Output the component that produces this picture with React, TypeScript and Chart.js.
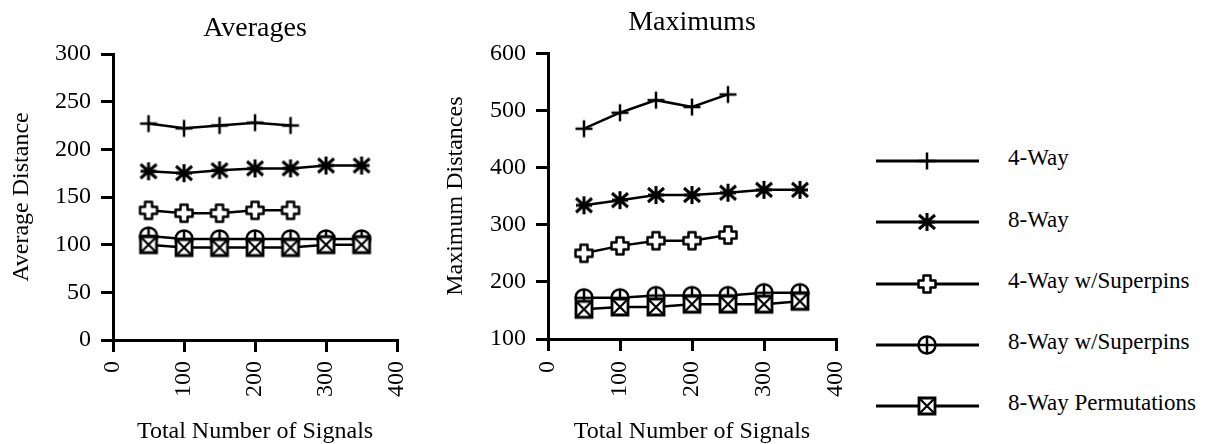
import React, { useEffect, useRef } from 'react';
import { Chart, registerables } from 'chart.js';

Chart.register(...registerables);

const FONT = "'Liberation Serif', 'Times New Roman', serif";

// ---- data ----
const signals = [50, 100, 150, 200, 250, 300, 350];
const seriesNames = ['4-Way', '8-Way', '4-Way w/Superpins', '8-Way w/Superpins', '8-Way Permutations'];

const avg4Way = [227, 222, 225, 228, 225];
const avg8Way = [177, 175, 178, 180, 180, 183, 183];
const avg4WaySP = [136, 133, 133, 136, 136];
const avg8WaySP = [109, 106, 106, 106, 106, 106, 106];
const avg8WayPerm = [100, 97, 97, 97, 97, 100, 100];

const max4Way = [468, 496, 518, 506, 528];
const max8Way = [334, 343, 352, 352, 356, 361, 361];
const max4WaySP = [250, 263, 272, 272, 282];
const max8WaySP = [172, 172, 176, 176, 176, 181, 181];
const max8WayPerm = [152, 156, 156, 161, 161, 161, 166];

const avgYTicks = { min: 0, max: 300, step: 50 };
const maxYTicks = { min: 100, max: 600, step: 100 };
const xTicks = { min: 0, max: 400, step: 100 };

type MarkerKind = 'plus' | 'asterisk' | 'greek' | 'circlePlus' | 'squareX';
const markerKinds: MarkerKind[] = ['plus', 'asterisk', 'greek', 'circlePlus', 'squareX'];

function drawMarker(ctx: CanvasRenderingContext2D, kind: MarkerKind, cx: number, cy: number) {
  ctx.save();
  ctx.strokeStyle = '#000';
  ctx.fillStyle = '#fff';
  ctx.lineJoin = 'miter';
  ctx.lineCap = 'butt';
  if (kind === 'plus') {
    ctx.lineWidth = 2.5;
    ctx.beginPath();
    ctx.moveTo(cx - 8.5, cy);
    ctx.lineTo(cx + 8.5, cy);
    ctx.moveTo(cx, cy - 8.5);
    ctx.lineTo(cx, cy + 8.5);
    ctx.stroke();
  } else if (kind === 'asterisk') {
    ctx.lineWidth = 3;
    ctx.beginPath();
    ctx.moveTo(cx, cy - 9);
    ctx.lineTo(cx, cy + 9);
    ctx.moveTo(cx - 8, cy - 7);
    ctx.lineTo(cx + 8, cy + 7);
    ctx.moveTo(cx - 8, cy + 7);
    ctx.lineTo(cx + 8, cy - 7);
    ctx.moveTo(cx - 8, cy);
    ctx.lineTo(cx + 8, cy);
    ctx.stroke();
  } else if (kind === 'greek') {
    const a = 3.5;
    const L = 8.5;
    ctx.lineWidth = 2.5;
    ctx.lineJoin = 'round';
    ctx.beginPath();
    const pts = [
      [-a, -L], [a, -L], [a, -a], [L, -a], [L, a], [a, a],
      [a, L], [-a, L], [-a, a], [-L, a], [-L, -a], [-a, -a],
    ];
    pts.forEach(([px, py], i) => {
      if (i === 0) ctx.moveTo(cx + px, cy + py);
      else ctx.lineTo(cx + px, cy + py);
    });
    ctx.closePath();
    ctx.fill();
    ctx.stroke();
  } else if (kind === 'circlePlus') {
    ctx.lineWidth = 2.5;
    ctx.beginPath();
    ctx.arc(cx, cy, 8.5, 0, Math.PI * 2);
    ctx.fill();
    ctx.stroke();
    ctx.beginPath();
    ctx.moveTo(cx - 8.5, cy);
    ctx.lineTo(cx + 8.5, cy);
    ctx.moveTo(cx, cy - 8.5);
    ctx.lineTo(cx, cy + 8.5);
    ctx.stroke();
  } else if (kind === 'squareX') {
    ctx.lineWidth = 2.8;
    ctx.beginPath();
    ctx.rect(cx - 8, cy - 8, 16, 16);
    ctx.fill();
    ctx.stroke();
    ctx.lineWidth = 2.2;
    ctx.beginPath();
    ctx.moveTo(cx - 8, cy - 8);
    ctx.lineTo(cx + 8, cy + 8);
    ctx.moveTo(cx - 8, cy + 8);
    ctx.lineTo(cx + 8, cy - 8);
    ctx.stroke();
  }
  ctx.restore();
}

function makeMarker(kind: MarkerKind): HTMLCanvasElement {
  const c = document.createElement('canvas');
  c.width = 24;
  c.height = 24;
  const ctx = c.getContext('2d')!;
  drawMarker(ctx, kind, 12, 12);
  return c;
}

function toPoints(values: number[]) {
  return values.map((v, i) => ({ x: signals[i], y: v }));
}

interface ChartSpec {
  title: string;
  yTitle: string;
  yTicks: { min: number; max: number; step: number };
  series: number[][];
  titlePad: { top: number; bottom: number };
  yWidth: number;
  xHeight: number;
  rightPad: number;
  yTitlePadTop: number;
  xTickPad: number;
}

function buildConfig(spec: ChartSpec): any {
  const tickGrid = {
    display: true,
    drawOnChartArea: false,
    drawTicks: true,
    tickLength: 12,
    tickWidth: 3,
    tickColor: '#000',
    color: '#000',
    lineWidth: 3,
  };
  const border = { display: true, color: '#000', width: 3 };
  const n = spec.series.length;
  return {
    type: 'line',
    data: {
      datasets: spec.series.map((vals, i) => ({
        label: seriesNames[i],
        data: toPoints(vals),
        borderColor: '#000',
        backgroundColor: '#000',
        borderWidth: 2.5,
        pointStyle: makeMarker(markerKinds[i]),
        pointRadius: 8,
        pointHoverRadius: 8,
        tension: 0,
        fill: false,
        order: n - i,
        clip: false,
      })),
    },
    options: {
      responsive: false,
      animation: false,
      devicePixelRatio: 1,
      events: [],
      layout: { padding: { left: 0, right: spec.rightPad, top: 0, bottom: 0 } },
      plugins: {
        legend: { display: false },
        tooltip: { enabled: false },
        title: {
          display: true,
          text: spec.title,
          fullSize: false,
          color: '#000',
          font: { family: FONT, size: 28, weight: 'normal', lineHeight: 1.2 },
          padding: spec.titlePad,
        },
      },
      scales: {
        x: {
          type: 'linear',
          min: xTicks.min,
          max: xTicks.max,
          afterFit: (s: any) => {
            s.height = spec.xHeight;
          },
          ticks: {
            stepSize: xTicks.step,
            minRotation: 90,
            maxRotation: 90,
            autoSkip: false,
            padding: spec.xTickPad,
            color: '#000',
            font: { family: FONT, size: 24, lineHeight: 0.58 },
          },
          grid: tickGrid,
          border,
          title: {
            display: true,
            text: 'Total Number of Signals',
            color: '#000',
            font: { family: FONT, size: 24, lineHeight: 1 },
            padding: { top: 0, bottom: 0 },
          },
        },
        y: {
          type: 'linear',
          min: spec.yTicks.min,
          max: spec.yTicks.max,
          afterFit: (s: any) => {
            s.width = spec.yWidth;
          },
          ticks: {
            stepSize: spec.yTicks.step,
            padding: 10,
            color: '#000',
            font: { family: FONT, size: 24, lineHeight: 1.2 },
          },
          grid: tickGrid,
          border,
          title: {
            display: true,
            text: spec.yTitle,
            color: '#000',
            font: { family: FONT, size: 24, lineHeight: 1.2 },
            padding: { top: spec.yTitlePadTop, bottom: 0 },
          },
        },
      },
    },
  };
}

function ChartCanvas({ spec, left, width }: { spec: ChartSpec; left: number; width: number }) {
  const ref = useRef<HTMLCanvasElement | null>(null);
  useEffect(() => {
    if (!ref.current) return;
    const chart = new Chart(ref.current, buildConfig(spec));
    return () => chart.destroy();
  }, []);
  return (
    <canvas
      ref={ref}
      width={width}
      height={444}
      style={{ position: 'absolute', left, top: 0, width, height: 444, display: 'block' }}
    />
  );
}

function LegendSwatch({ kind, left, top }: { kind: MarkerKind; left: number; top: number }) {
  const ref = useRef<HTMLCanvasElement | null>(null);
  useEffect(() => {
    const c = ref.current;
    if (!c) return;
    const ctx = c.getContext('2d')!;
    ctx.clearRect(0, 0, c.width, c.height);
    ctx.strokeStyle = '#000';
    ctx.lineWidth = 3;
    ctx.beginPath();
    ctx.moveTo(0, 12);
    ctx.lineTo(103, 12);
    ctx.stroke();
    drawMarker(ctx, kind, 51, 12);
  }, []);
  return (
    <canvas
      ref={ref}
      width={103}
      height={24}
      style={{ position: 'absolute', left, top, width: 103, height: 24, display: 'block' }}
    />
  );
}

const avgSpec: ChartSpec = {
  title: 'Averages',
  yTitle: 'Average Distance',
  yTicks: avgYTicks,
  series: [avg4Way, avg8Way, avg4WaySP, avg8WaySP, avg8WayPerm],
  titlePad: { top: 12, bottom: 8.4 },
  yWidth: 113,
  xHeight: 104,
  rightPad: 19,
  yTitlePadTop: 7,
  xTickPad: 9,
};

const maxSpec: ChartSpec = {
  title: 'Maximums',
  yTitle: 'Maximum Distances',
  yTicks: maxYTicks,
  series: [max4Way, max8Way, max4WaySP, max8WaySP, max8WayPerm],
  titlePad: { top: 5.4, bottom: 14.3 },
  yWidth: 128,
  xHeight: 105,
  rightPad: 24,
  yTitlePadTop: 21,
  xTickPad: 10,
};

export default function App() {
  const rowY = seriesNames.map((_, i) => 161 + i * 61.25);
  return (
    <div
      style={{
        position: 'absolute',
        left: 0,
        top: 0,
        width: 1217,
        height: 444,
        overflow: 'hidden',
        background: '#fff',
      }}
    >
      <ChartCanvas spec={avgSpec} left={0} width={420} />
      <ChartCanvas spec={maxSpec} left={420} width={440} />
      {seriesNames.map((name, i) => (
        <React.Fragment key={name}>
          <LegendSwatch kind={markerKinds[i]} left={876} top={Math.round(rowY[i]) - 12} />
          <div
            style={{
              position: 'absolute',
              left: 1008,
              top: rowY[i] - 14.6,
              fontFamily: FONT,
              fontSize: 23,
              lineHeight: 1,
              color: '#000',
              whiteSpace: 'nowrap',
            }}
          >
            {name}
          </div>
        </React.Fragment>
      ))}
    </div>
  );
}
